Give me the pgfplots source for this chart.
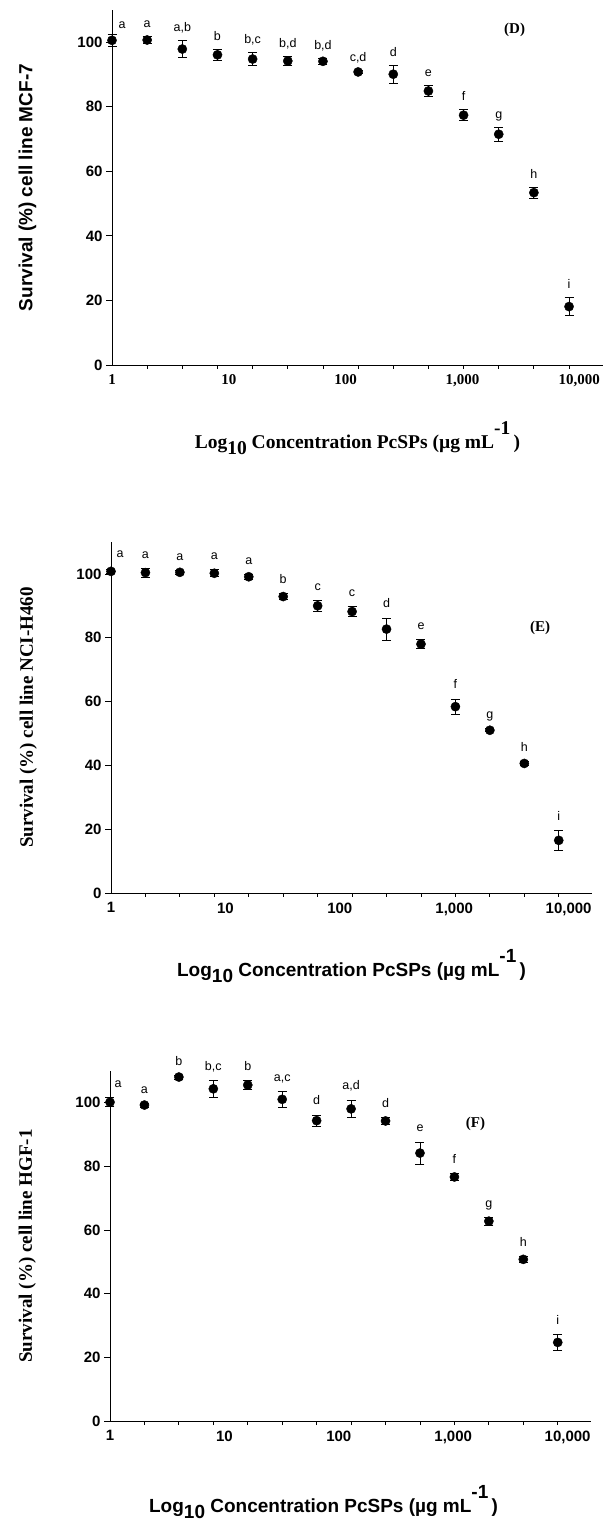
\documentclass[border=0pt]{standalone}
\usepackage{fontspec}
\setmainfont{Liberation Sans}
\newfontfamily\tnr{Liberation Serif}
\usepackage{pgfplots}
\usepackage{pgfplotstable}
\pgfplotsset{compat=1.18}
\pgfkeys{/pgf/number format/assume math mode=true}

% survival (%) vs concentration, mean, error, letter group
\pgfplotstableread{
x y err lab
1 100.6 1.9 a
2 100.7 1.2 a
4 97.9 2.6 a,b
8 96.1 1.7 b
16 94.8 2.1 b,c
32 94.2 1.3 b,d
64 94.1 0.9 b,d
128 90.8 0.5 c,d
256 90.1 2.8 d
512 84.9 1.6 e
1024 77.4 1.7 f
2048 71.5 2.2 g
4096 53.4 1.7 h
8192 18.1 2.8 i
}\dataD

\pgfplotstableread{
x y err lab
1 100.8 0.5 a
2 100.4 1.4 a
4 100.5 0.5 a
8 100.2 1.1 a
16 99.1 0.7 a
32 92.9 0.9 b
64 90.0 1.8 c
128 88.2 1.5 c
256 82.7 3.5 d
512 78.0 1.5 e
1024 58.4 2.4 f
2048 51.0 0.5 g
4096 40.6 0.5 h
8192 16.5 3.0 i
}\dataE

\pgfplotstableread{
x y err lab
1 100.2 1.4 a
2 99.3 0.6 a
4 108.1 0.6 b
8 104.4 2.7 b,c
16 105.6 1.3 b
32 101.1 2.6 a,c
64 94.4 1.8 d
128 98.1 2.8 a,d
256 94.3 1.0 d
512 84.2 3.5 e
1024 76.7 1.2 f
2048 62.8 1.3 g
4096 50.8 0.8 h
8192 24.7 2.4 i
}\dataF

\pgfplotsset{every axis/.append style={
    scale only axis, width=481pt,
    xmin=1, xmax=16000, ymin=0, ymax=110,
    axis lines=left, axis line style={-, line width=0.9pt, black},
    clip=false,
    tick align=outside, major tick length=6pt, minor tick length=4pt,
    tick style={line width=0.8pt, black},
    xtick={1,10,100,1000,10000},
    xticklabels={1,10,100,{1,000},{10,000}},
    major x tick style={draw=none},
    minor xtick={2,4,8,16,32,64,128,256,512,1024,2048,4096,8192},
    ytick={0,20,40,60,80,100},
    tick label style={font=\bfseries\fontsize{15}{15}\selectfont},
    ylabel style={at={(axis description cs:-0.172,0.5)}, anchor=center},
    xlabel style={at={(axis description cs:0.5,0)}, anchor=base, yshift=-84pt},
  }}

\newcommand{\xtitle}{Log\raisebox{-6pt}{10} Concentration PcSPs (µg mL\raisebox{14pt}{-1}\,)}

\begin{document}
\begin{tikzpicture}
\useasboundingbox (0,0) rectangle (603pt,1524pt);

% (D) MCF-7
\begin{semilogxaxis}[at={(112pt,1159pt)}, anchor=south west, width=491pt, height=355pt,
  xticklabel style={font=\tnr\bfseries\fontsize{15}{15}\selectfont},
  ylabel={\bfseries\fontsize{19}{19}\selectfont Survival (\%) cell line MCF-7},
  xlabel={\tnr\bfseries\fontsize{19.5}{19.5}\selectfont \xtitle}]
\addplot[only marks, mark=*, mark size=4.6pt, black,
  error bars/.cd, y dir=both, y explicit,
  error bar style={line width=0.8pt, black},
  error mark options={rotate=90, mark size=4.5pt, line width=0.8pt, black}]
  table[x=x, y=y, y error=err] {\dataD};
\addplot[only marks, mark=none, nodes near coords, point meta=explicit symbolic,
  skip coords between index={0}{1},
  nodes near coords style={font=\fontsize{12.5}{13}\selectfont, anchor=base, inner sep=0pt, yshift=9pt}]
  table[x=x, y expr=\thisrow{y}+\thisrow{err}, meta=lab] {\dataD};
\addplot[only marks, mark=none, nodes near coords, point meta=explicit symbolic,
  skip coords between index={1}{14},
  nodes near coords style={font=\fontsize{12.5}{13}\selectfont, anchor=base, inner sep=0pt, yshift=6pt, xshift=10pt}]
  table[x=x, y expr=\thisrow{y}+\thisrow{err}, meta=lab] {\dataD};
\node[font=\tnr\bfseries\fontsize{15}{15}\selectfont] at (rel axis cs:0.82,0.944) {(D)};
\end{semilogxaxis}

% (E) NCI-H460
\begin{semilogxaxis}[at={(111pt,631pt)}, anchor=south west, height=351pt,
  ylabel={\tnr\bfseries\fontsize{19}{19}\selectfont Survival (\%) cell line NCI-H460},
  xlabel={\bfseries\fontsize{19}{19}\selectfont \xtitle}]
\addplot[only marks, mark=*, mark size=4.6pt, black,
  error bars/.cd, y dir=both, y explicit,
  error bar style={line width=0.8pt, black},
  error mark options={rotate=90, mark size=4.5pt, line width=0.8pt, black}]
  table[x=x, y=y, y error=err] {\dataE};
\addplot[only marks, mark=none, nodes near coords, point meta=explicit symbolic,
  skip coords between index={0}{1},
  nodes near coords style={font=\fontsize{12.5}{13}\selectfont, anchor=base, inner sep=0pt, yshift=10pt}]
  table[x=x, y expr=\thisrow{y}+\thisrow{err}, meta=lab] {\dataE};
\addplot[only marks, mark=none, nodes near coords, point meta=explicit symbolic,
  skip coords between index={1}{14},
  nodes near coords style={font=\fontsize{12.5}{13}\selectfont, anchor=base, inner sep=0pt, yshift=12pt, xshift=9pt}]
  table[x=x, y expr=\thisrow{y}+\thisrow{err}, meta=lab] {\dataE};
\node[font=\tnr\bfseries\fontsize{15}{15}\selectfont] at (rel axis cs:0.892,0.755) {(E)};
\end{semilogxaxis}

% (F) HGF-1
\begin{semilogxaxis}[at={(110pt,103pt)}, anchor=south west, height=350pt,
  ylabel={\tnr\bfseries\fontsize{19}{19}\selectfont Survival (\%) cell line HGF-1},
  xlabel={\bfseries\fontsize{19}{19}\selectfont \xtitle},
  xlabel style={xshift=-27pt, yshift=-7pt}]
\addplot[only marks, mark=*, mark size=4.6pt, black,
  error bars/.cd, y dir=both, y explicit,
  error bar style={line width=0.8pt, black},
  error mark options={rotate=90, mark size=4.5pt, line width=0.8pt, black}]
  table[x=x, y=y, y error=err] {\dataF};
\addplot[only marks, mark=none, nodes near coords, point meta=explicit symbolic,
  skip coords between index={0}{1},
  nodes near coords style={font=\fontsize{12.5}{13}\selectfont, anchor=base, inner sep=0pt, yshift=10pt}]
  table[x=x, y expr=\thisrow{y}+\thisrow{err}, meta=lab] {\dataF};
\addplot[only marks, mark=none, nodes near coords, point meta=explicit symbolic,
  skip coords between index={1}{14},
  nodes near coords style={font=\fontsize{12.5}{13}\selectfont, anchor=base, inner sep=0pt, yshift=10pt, xshift=8pt}]
  table[x=x, y expr=\thisrow{y}+\thisrow{err}, meta=lab] {\dataF};
\node[font=\tnr\bfseries\fontsize{15}{15}\selectfont] at (rel axis cs:0.76,0.849) {(F)};
\end{semilogxaxis}
\end{tikzpicture}
\end{document}
